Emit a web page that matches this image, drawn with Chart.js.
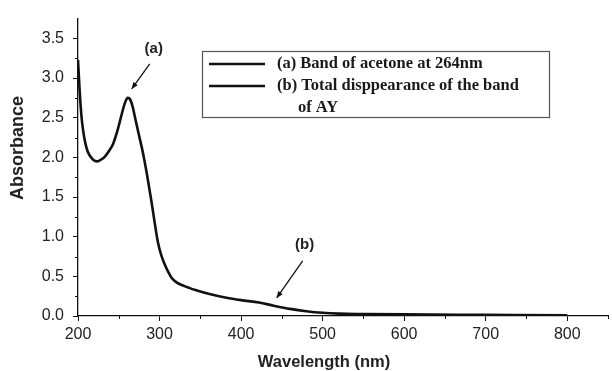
<!DOCTYPE html>
<html>
<head>
<meta charset="utf-8">
<script src="https://cdn.jsdelivr.net/npm/chart.js@4.4.0/dist/chart.umd.min.js"></script>
<style>
html,body{margin:0;padding:0;background:#fff;}
#wrap{width:612px;height:371px;position:relative;}
</style>
</head>
<body>
<div id="wrap"><canvas id="c" width="612" height="371"></canvas></div>
<script>
const wavelength = [200,202,204,206,209,212,216,220,224,228,233,238,243,249,254,258,261,264,267,270,275,280,285,290,294,298,302,306,310,315,320,325,335,343,360,382,400,422,440,460,480,500,520,550,600,700,800];
const absorbance = [3.23,2.85,2.55,2.36,2.18,2.07,2.00,1.96,1.95,1.97,2.01,2.08,2.17,2.36,2.56,2.70,2.75,2.73,2.64,2.50,2.27,2.04,1.76,1.45,1.18,0.93,0.77,0.66,0.57,0.48,0.43,0.40,0.36,0.33,0.28,0.23,0.20,0.17,0.13,0.09,0.06,0.04,0.03,0.025,0.02,0.015,0.01];
const xTickValues = [200,250,300,350,400,450,500,550,600,650,700,750,800,850];
const xTickLabels = ["200","","300","","400","","500","","600","","700","","800",""];
const yTickValues = [0,0.25,0.5,0.75,1,1.25,1.5,1.75,2,2.25,2.5,2.75,3,3.25,3.5];
const yTickLabels = ["0.0","","0.5","","1.0","","1.5","","2.0","","2.5","","3.0","","3.5"];
const legendLabels = [["(a) Band of acetone at 264nm"],["(b) Total disppearance of the band","of AY"]];
const xTitle = "Wavelength (nm)";
const yTitle = "Absorbance";
const notes = [{text:"(a)", x:261, y:2.75}, {text:"(b)", x:440, y:0.14}];

const points = wavelength.map((w,i)=>({x:w,y:absorbance[i]}));

const drawExtras = {
  id:'extras',
  afterDraw(chart){
    const ctx = chart.ctx;
    const xs = chart.scales.x, ys = chart.scales.y;
    ctx.save();
    ctx.strokeStyle = '#111'; ctx.lineWidth = 1;
    // minor ticks (unlabelled positions)
    xTickValues.forEach((v,i) => {
      if (xTickLabels[i]) return;
      const px = Math.round(xs.getPixelForValue(v)) + 0.5;
      ctx.beginPath(); ctx.moveTo(px, xs.top); ctx.lineTo(px, xs.top + 3); ctx.stroke();
    });
    yTickValues.forEach((v,i) => {
      if (yTickLabels[i]) return;
      const py = Math.round(ys.getPixelForValue(v)) + 0.5;
      ctx.beginPath(); ctx.moveTo(ys.right, py); ctx.lineTo(ys.right - 3, py); ctx.stroke();
    });
    // axis titles
    ctx.fillStyle = '#222';
    ctx.font = 'bold 16.5px "Liberation Sans", Arial, sans-serif';
    ctx.textAlign = 'center'; ctx.textBaseline = 'middle';
    ctx.fillText(xTitle, 324, 362);
    ctx.save();
    ctx.translate(18, 148); ctx.rotate(-Math.PI/2);
    ctx.font = 'bold 18px "Liberation Sans", Arial, sans-serif';
    ctx.fillText(yTitle, 0, 0);
    ctx.restore();
    // annotations (a), (b)
    ctx.font = 'bold 15px "Liberation Sans", Arial, sans-serif';
    const pa = {x: xs.getPixelForValue(notes[0].x), y: ys.getPixelForValue(notes[0].y)};
    ctx.fillText(notes[0].text, pa.x + 26, pa.y - 49);
    arrow(ctx, pa.x + 22, pa.y - 34, pa.x + 4, pa.y - 9);
    const pb = {x: xs.getPixelForValue(notes[1].x), y: ys.getPixelForValue(notes[1].y)};
    ctx.fillText(notes[1].text, pb.x + 31, pb.y - 60);
    arrow(ctx, pb.x + 29, pb.y - 44, pb.x + 3, pb.y - 7);
    // legend box
    ctx.strokeStyle = '#555'; ctx.lineWidth = 1.2;
    ctx.strokeRect(202.5, 51.5, 347, 66);
    ctx.fillStyle = '#1a1a1a';
    ctx.strokeStyle = '#111'; ctx.lineWidth = 2.5;
    ctx.textAlign = 'left'; ctx.textBaseline = 'middle';
    ctx.font = 'bold 16.5px "Liberation Serif", "Times New Roman", serif';
    const rows = [64, 86];
    legendLabels.forEach((lines, i) => {
      const y = rows[i];
      ctx.beginPath(); ctx.moveTo(209, y); ctx.lineTo(265, y); ctx.stroke();
      ctx.fillText(lines[0], 277, y);
      if (lines[1]) ctx.fillText(lines[1], 298, y + 22);
    });
    ctx.restore();
  }
};
function arrow(ctx, x1, y1, x2, y2){
  ctx.save();
  ctx.strokeStyle = '#111'; ctx.fillStyle = '#111'; ctx.lineWidth = 1.3;
  ctx.beginPath(); ctx.moveTo(x1, y1); ctx.lineTo(x2, y2); ctx.stroke();
  const a = Math.atan2(y2 - y1, x2 - x1), L = 7, w = 0.4;
  ctx.beginPath();
  ctx.moveTo(x2, y2);
  ctx.lineTo(x2 - L*Math.cos(a - w), y2 - L*Math.sin(a - w));
  ctx.lineTo(x2 - L*Math.cos(a + w), y2 - L*Math.sin(a + w));
  ctx.closePath(); ctx.fill();
  ctx.restore();
}

new Chart(document.getElementById('c'), {
  type: 'scatter',
  data: { datasets: [{
    label: legendLabels[0][0],
    data: points,
    showLine: true,
    borderColor: '#111',
    borderWidth: 2.6,
    pointRadius: 0,
    cubicInterpolationMode: 'monotone',
    fill: false
  }]},
  options: {
    responsive: false,
    animation: false,
    layout: { padding: { top: 10, right: 1, left: 0, bottom: 0 } },
    plugins: { legend: { display: false }, tooltip: { enabled: false } },
    scales: {
      x: {
        type: 'linear', min: 200, max: 851,
        afterBuildTicks(s){ s.ticks = xTickValues.map(v => ({value: v})); },
        afterFit(s){ s.height = 55; },
        border: { display: true, color: '#111', width: 1.3 },
        grid: { display: true, drawOnChartArea: false, drawTicks: true, tickLength: 5, tickWidth: 1,
                tickColor: c => (xTickLabels[c.index] ? '#111' : 'rgba(0,0,0,0)') },
        ticks: { autoSkip: false, maxRotation: 0, padding: 4, color: '#222',
                 font: { family: '"Liberation Sans", Arial, sans-serif', size: 16 },
                 callback: (v, i) => xTickLabels[i] }
      },
      y: {
        type: 'linear', min: 0, max: 3.75,
        afterBuildTicks(s){ s.ticks = yTickValues.map(v => ({value: v})); },
        afterFit(s){ s.width = 78; },
        border: { display: true, color: '#111', width: 1.3 },
        grid: { display: true, drawOnChartArea: false, drawTicks: true, tickLength: 5, tickWidth: 1,
                tickColor: c => (yTickLabels[c.index] ? '#111' : 'rgba(0,0,0,0)') },
        ticks: { autoSkip: false, padding: 9, color: '#222',
                 font: { family: '"Liberation Sans", Arial, sans-serif', size: 16 },
                 callback: (v, i) => yTickLabels[i] }
      }
    }
  },
  plugins: [drawExtras]
});
</script>
</body>
</html>
